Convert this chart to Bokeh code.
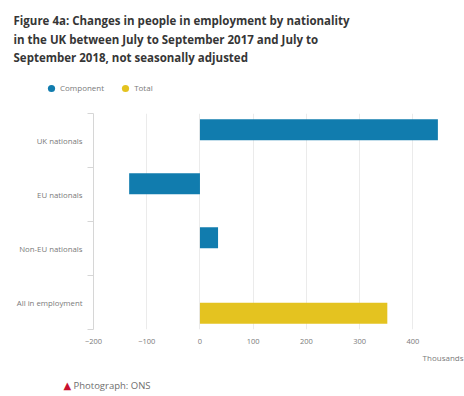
from bokeh.plotting import figure
from bokeh.layouts import column
from bokeh.models import (Range1d, FixedTicker, Label, Legend, LegendItem,
                          ColumnDataSource)
from bokeh.embed import file_html
from bokeh.resources import INLINE

# Change in employment, thousands, Jul-Sep 2017 to Jul-Sep 2018
categories = ["UK nationals", "EU nationals", "Non-EU nationals", "All in employment"]
component_values = [447, -133, 34]          # first three categories
total_values = [352]                        # last category
series_names = ["Component", "Total"]
x_ticks = [-200, -100, 0, 100, 200, 300, 400]

BLUE = "#117cae"
YELLOW = "#e4c320"
GREY_TEXT = "#7a7a7a"
FONT = "Open Sans"
W = 464


def blank(height):
    """A frameless strip used for header / footer text, in pixel-like units."""
    f = figure(width=W, height=height, output_backend="svg", toolbar_location=None,
               x_range=Range1d(0, W), y_range=Range1d(height, 0),
               x_axis_type=None, y_axis_type=None, min_border=0)
    f.outline_line_color = None
    f.grid.visible = False
    f.frame_align = False
    return f


# ---- header: title and legend ----
HEAD_H = 100
head = blank(HEAD_H)
title_lines = ["Figure 4a: Changes in people in employment by nationality",
               "in the UK between July to September 2017 and July to",
               "September 2018, not seasonally adjusted"]
for k, line in enumerate(title_lines):
    head.add_layout(Label(x=13, y=20 + 18.5 * k, text=line, text_font=FONT,
                          text_font_size="11.5px", text_font_style="bold",
                          text_color="#363636", text_baseline="alphabetic"))

# legend swatches: round markers (proxy renderers with no visible point)
nan = float("nan")
d1 = head.scatter([nan], [nan], marker="circle", fill_color=BLUE, line_color=None)
d2 = head.scatter([nan], [nan], marker="circle", fill_color=YELLOW, line_color=None)
leg = Legend(items=[LegendItem(label=series_names[0], renderers=[d1]),
                    LegendItem(label=series_names[1], renderers=[d2])],
             orientation="horizontal", location=(42, 3.5),
             glyph_width=18, glyph_height=18, label_standoff=0, spacing=12,
             padding=0, margin=0, border_line_color=None,
             background_fill_alpha=0, label_text_font=FONT,
             label_text_font_size="8px", label_text_color=GREY_TEXT,
             label_height=18)
head.add_layout(leg, "center")

# ---- main chart ----
MAIN_H = 252
p = figure(width=W, height=MAIN_H, output_backend="svg", toolbar_location=None,
           x_range=Range1d(-200, 497), y_range=Range1d(len(categories), 0),
           min_border_left=93, min_border_right=0, min_border_top=13,
           min_border_bottom=23)
p.outline_line_color = None
p.frame_align = False

# grouped bar slots: component above the band centre, total below
offset = 0.2
bar_h = 0.39
comp_src = ColumnDataSource(dict(
    y=[i + 0.5 - offset for i in range(len(component_values))],
    v=component_values))
tot_src = ColumnDataSource(dict(
    y=[len(component_values) + i + 0.5 + offset for i in range(len(total_values))],
    v=total_values))
p.hbar(y="y", left=0, right="v", height=bar_h, source=comp_src,
       fill_color=BLUE, line_color=None)
p.hbar(y="y", left=0, right="v", height=bar_h, source=tot_src,
       fill_color=YELLOW, line_color=None)

xa = p.xaxis[0]
xa.ticker = FixedTicker(ticks=x_ticks)
xa.axis_line_color = None
xa.major_tick_line_color = None
xa.major_tick_out = 0
xa.minor_tick_line_color = None
xa.major_label_standoff = 9
xa.major_label_text_font = FONT
xa.major_label_text_font_size = "7.5px"
xa.major_label_text_color = GREY_TEXT

ya = p.yaxis[0]
ya.ticker = FixedTicker(ticks=[i + 0.5 for i in range(len(categories))],
                        minor_ticks=list(range(len(categories) + 1)))
ya.major_label_overrides = {i + 0.5: c for i, c in enumerate(categories)}
ya.axis_line_color = "#d6d6d6"
ya.major_tick_line_color = None
ya.major_tick_out = 0
ya.minor_tick_line_color = "#d6d6d6"
ya.minor_tick_out = 6
ya.minor_tick_in = 0
ya.major_label_standoff = 5
ya.major_label_text_font = FONT
ya.major_label_text_font_size = "7.8px"
ya.major_label_text_color = GREY_TEXT

p.xgrid.ticker = FixedTicker(ticks=x_ticks)
p.xgrid.grid_line_color = "#ebebeb"
p.ygrid.grid_line_color = None

# ---- footer: unit note and source ----
FOOT_H = 396 - HEAD_H - MAIN_H
foot = blank(FOOT_H)
foot.add_layout(Label(x=463, y=5, text="Thousands", text_font=FONT,
                      text_font_size="8px", text_color=GREY_TEXT,
                      text_align="right", text_baseline="middle"))
foot.add_layout(Label(x=63, y=33, text="\u25B2", text_font="DejaVu Sans",
                      text_font_size="10px", text_color="#c8102e",
                      text_baseline="middle"))
foot.add_layout(Label(x=73, y=33, text="Photograph: ONS", text_font=FONT,
                      text_font_size="9.5px", text_color="#6e6e6e",
                      text_baseline="middle"))

page = column(head, p, foot, spacing=0)
open("out.html", "w").write(file_html(page, INLINE))
